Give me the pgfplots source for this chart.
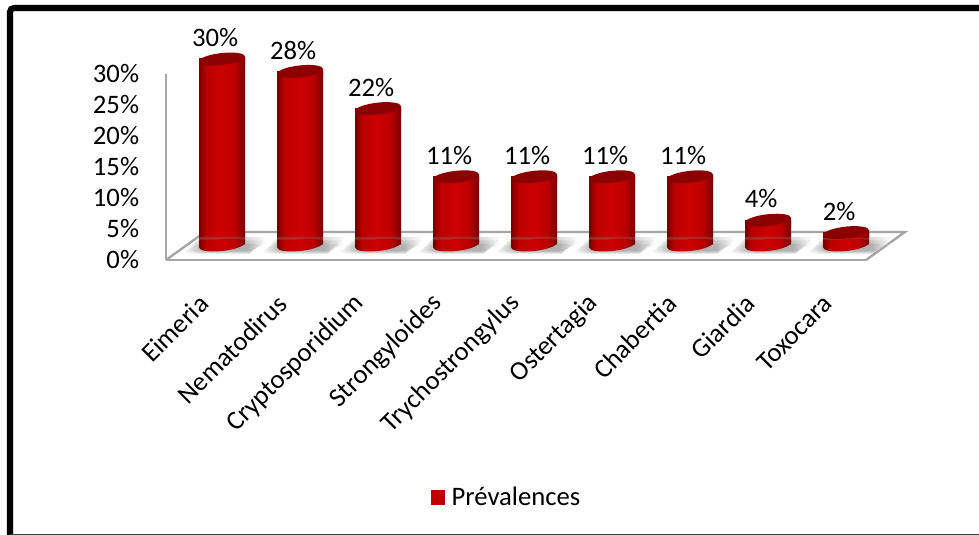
\documentclass[border=0pt]{standalone}
\usepackage{fontspec}
\setmainfont{Carlito}
\usepackage{pgfplots}
\usepackage{pgfplotstable}
\pgfplotsset{compat=1.18}
\definecolor{cdark}{HTML}{780000}
\definecolor{cmid}{HTML}{BC0000}
\definecolor{cbright}{HTML}{CC0000}
\definecolor{ctop}{HTML}{8B0000}
\definecolor{cgray}{HTML}{A6A6A6}
\definecolor{cshad}{HTML}{8A8A8A}
\definecolor{cleg}{HTML}{C00000}
\pgfdeclarehorizontalshading{cyl}{100bp}{color(0bp)=(cdark); color(25bp)=(cdark); color(33bp)=(cmid); color(50bp)=(cbright); color(64bp)=(cmid); color(75bp)=(cdark); color(100bp)=(cdark)}
\pgfdeclarehorizontalshading{shad}{100bp}{color(0bp)=(white); color(25bp)=(white); color(37bp)=(cshad); color(63bp)=(cshad); color(75bp)=(white); color(100bp)=(white)}
\newcommand{\cylellipse}{\pgfpathellipse{\pgfpointorigin}{\pgfqpoint{17.25pt}{1.8pt}}{\pgfqpoint{0pt}{4.5pt}}}
\newcommand{\shadlayer}[2]{%
  \pgfpathmoveto{\pgfqpoint{-29pt}{-#1pt}}
  \pgfpathlineto{\pgfqpoint{-16pt}{#2pt}}
  \pgfpathlineto{\pgfqpoint{34pt}{#2pt}}
  \pgfpathlineto{\pgfqpoint{21pt}{-#1pt}}
  \pgfpathclose
  \pgfshadepath{shad}{0}\pgfusepath{discard}}
\pgfdeclareplotmark{cylbase}{%
  \cylellipse
  \pgfpathmoveto{\pgfqpoint{-17.25pt}{-1.8pt}}
  \pgfpathlineto{\pgfqpoint{17.25pt}{1.8pt}}
  \pgfpathlineto{\pgfqpoint{17.25pt}{4pt}}
  \pgfpathlineto{\pgfqpoint{-17.25pt}{4pt}}
  \pgfpathclose
  \pgfshadepath{cyl}{0}\pgfusepath{discard}}
\pgfdeclareplotmark{cyltop}{%
  \pgfpathmoveto{\pgfqpoint{-17.25pt}{-1.8pt}}
  \pgfpathlineto{\pgfqpoint{17.25pt}{1.8pt}}
  \pgfpathlineto{\pgfqpoint{17.25pt}{-4pt}}
  \pgfpathlineto{\pgfqpoint{-17.25pt}{-4pt}}
  \pgfpathclose
  \pgfshadepath{cyl}{0}\pgfusepath{discard}
  \pgfsetfillcolor{ctop}
  \cylellipse\pgfusepath{fill}}
\pgfdeclareplotmark{shadow}{%
  \pgfsetfillopacity{0.3}
  \shadlayer{6.5}{6}
  \shadlayer{5.5}{3.5}
  \shadlayer{4.5}{1}}
\pgfplotstableread{
i val
0 30
1 28
2 22
3 11
4 11
5 11
6 11
7 4
8 2
}\prev
\pgfplotsset{cylbar/.style={ybar,bar width=34.5pt,draw=none,shading=cyl,forget plot}}
\begin{document}
\begin{tikzpicture}
\useasboundingbox (0pt,0pt) rectangle (734.25pt,401.25pt);
\fill[white] (0pt,0pt) rectangle (734.25pt,401.25pt);
\draw[line width=4.6pt,black,rounded corners=3pt] (734.25pt,395.25pt) -- (7.5pt,395.25pt) -- (7.5pt,-2pt);
\draw[line width=1.2pt,black!75] (7.5pt,0.5pt) -- (734.25pt,0.5pt);
\begin{axis}[
  at={(124.5pt,206.25pt)},anchor=south west,scale only axis,
  width=525pt,height=139.5pt,
  xmin=-0.718,xmax=8.256,ymin=0,ymax=30,
  clip=false,
  axis lines=left,
  axis line style={draw=cgray,line width=1.8pt,-},
  major tick length=0pt,
  xtick={0,...,8},
  xticklabels={Eimeria,Nematodirus,Cryptosporidium,Strongyloides,Trychostrongylus,Ostertagia,Chabertia,Giardia,Toxocara},
  xticklabel style={rotate=45,anchor=east,font=\fontsize{20}{24}\selectfont,inner sep=0pt,yshift=-11.3pt,xshift=-30.3pt},
  ytick={0,5,...,30},
  yticklabels={0\%,5\%,10\%,15\%,20\%,25\%,30\%},
  yticklabel style={font=\fontsize{20}{24}\selectfont,inner sep=0pt,xshift=-20pt,yshift=0pt},
]
\draw[cgray,line width=1.8pt] (axis cs:-0.718,0) -- (axis cs:-0.218,4.52) -- (axis cs:8.756,4.52) -- (axis cs:8.256,0);
\end{axis}
\begin{axis}[
  at={(124.5pt,206.25pt)},anchor=south west,scale only axis,
  width=525pt,height=139.5pt,
  xmin=-0.718,xmax=8.256,ymin=-2.42,ymax=27.58,
  clip=false,
  hide axis,
  legend style={at={(0.4874,-1.275)},anchor=center,draw=none,fill=none,
    font=\fontsize{20}{24}\selectfont,inner sep=0pt},
  /pgf/number format/assume math mode=true,
]
\addplot[only marks,mark=shadow,forget plot] table[x=i,y expr=0] {\prev};
\addplot[only marks,mark=cylbase,forget plot] table[x=i,y expr=0] {\prev};
\addplot[cylbar] coordinates {(0,30)};
\addplot[cylbar] coordinates {(1,28)};
\addplot[cylbar] coordinates {(2,22)};
\addplot[cylbar] coordinates {(3,11)};
\addplot[cylbar] coordinates {(4,11)};
\addplot[cylbar] coordinates {(5,11)};
\addplot[cylbar] coordinates {(6,11)};
\addplot[cylbar] coordinates {(7,4)};
\addplot[cylbar] coordinates {(8,2)};
\addplot[only marks,mark=cyltop,forget plot,
  nodes near coords={\pgfmathprintnumber{\pgfplotspointmeta}\%},
  every node near coord/.append style={font=\fontsize{20}{24}\selectfont,text=black,inner sep=0pt,anchor=center,xshift=-5.2pt,yshift=16pt}
] table[x=i,y=val] {\prev};
\addlegendimage{legend image code/.code={\fill[cleg] (0pt,-5pt) rectangle (9.75pt,5pt);}}
\addlegendentry{\hspace{3pt}Prévalences}
\end{axis}
\end{tikzpicture}
\end{document}
